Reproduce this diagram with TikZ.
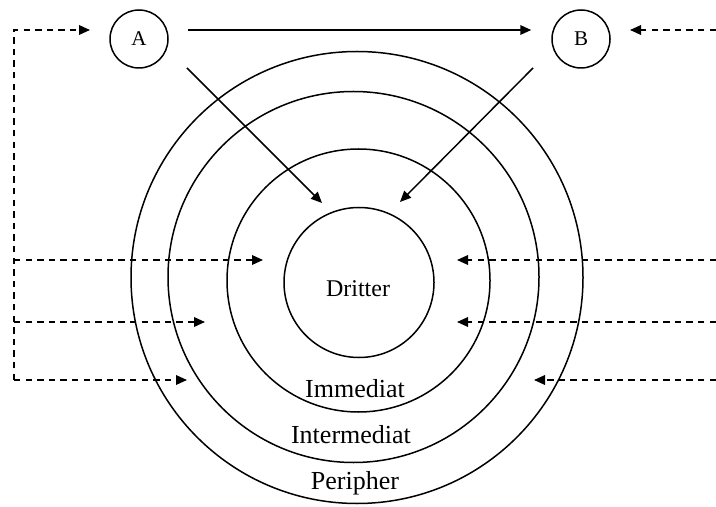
\documentclass[tikz,border=0pt]{standalone}
\usepackage{fontspec}
\setmainfont{Liberation Serif}
\usetikzlibrary{arrows.meta}

\tikzset{
  ring/.style={circle, draw, line width=0.75pt, inner sep=0pt},
  party/.style={circle, draw, line width=0.75pt, minimum size=29pt, inner sep=0pt, font=\fontsize{10.5}{12}\selectfont},
  zone/.style={anchor=base, inner sep=0pt, font=\fontsize{13}{15}\selectfont},
  flow/.style={line width=0.75pt, -{Triangle[length=5.5pt,width=4.8pt]}},
  infl/.style={flow, dash pattern=on 3.2pt off 2.6pt},
}

\begin{document}
\begin{tikzpicture}[x=0.5pt, y=-0.5pt]
\useasboundingbox (0,0) rectangle (716,507);
\node[ring, minimum size=226pt] (peripher) at (357,277.5) {};
\node[ring, minimum size=185.5pt] (intermediat) at (353.5,277) {};
\node[ring, minimum size=131.5pt] (immediat) at (358.5,280.5) {};
\node[ring, minimum size=75pt] (dritter) at (359,282.5) {};
\node[zone, font=\fontsize{12}{14}\selectfont] (dritter-lbl) at (358,297) {Dritter};
\node[zone] (immediat-lbl) at (355,397) {Immediat};
\node[zone] (intermediat-lbl) at (351,443) {Intermediat};
\node[zone] (peripher-lbl) at (355,489) {Peripher};
\node[party] (a) at (139,39) {A};
\node[party] (b) at (581,39) {B};
\coordinate (a-out) at (187,68);
\coordinate (b-out) at (533,68);
\coordinate (d-left) at (322,203);
\coordinate (d-right) at (400,202);
\coordinate (a-in) at (90,30);
\coordinate (b-in) at (630,30);
\coordinate (lt) at (14,30);
\coordinate (l1) at (14,260);
\coordinate (l2) at (14,322);
\coordinate (lb) at (14,380);
\coordinate (rt) at (716,30);
\coordinate (r1) at (716,260);
\coordinate (r2) at (716,322);
\coordinate (r3) at (716,380);
\coordinate (l1-tip) at (263,260);
\coordinate (l2-tip) at (205,322);
\coordinate (l3-tip) at (187,380);
\coordinate (r1-tip) at (457,260);
\coordinate (r2-tip) at (457,322);
\coordinate (r3-tip) at (534,380);
\draw[flow] ([xshift=9.5pt,yshift=4.5pt]a.east) -- ([xshift=-10pt,yshift=4.5pt]b.west);
\draw[flow] (a-out) -- (d-left);
\draw[flow] (b-out) -- (d-right);
\draw[infl] (lb) -- (lt) -- (a-in);
\draw[infl] (l1) -- (l1-tip);
\draw[infl] (l2) -- (l2-tip);
\draw[infl] (lb) -- (l3-tip);
\draw[infl] (rt) -- (b-in);
\draw[infl] (r1) -- (r1-tip);
\draw[infl] (r2) -- (r2-tip);
\draw[infl] (r3) -- (r3-tip);
\end{tikzpicture}
\end{document}
